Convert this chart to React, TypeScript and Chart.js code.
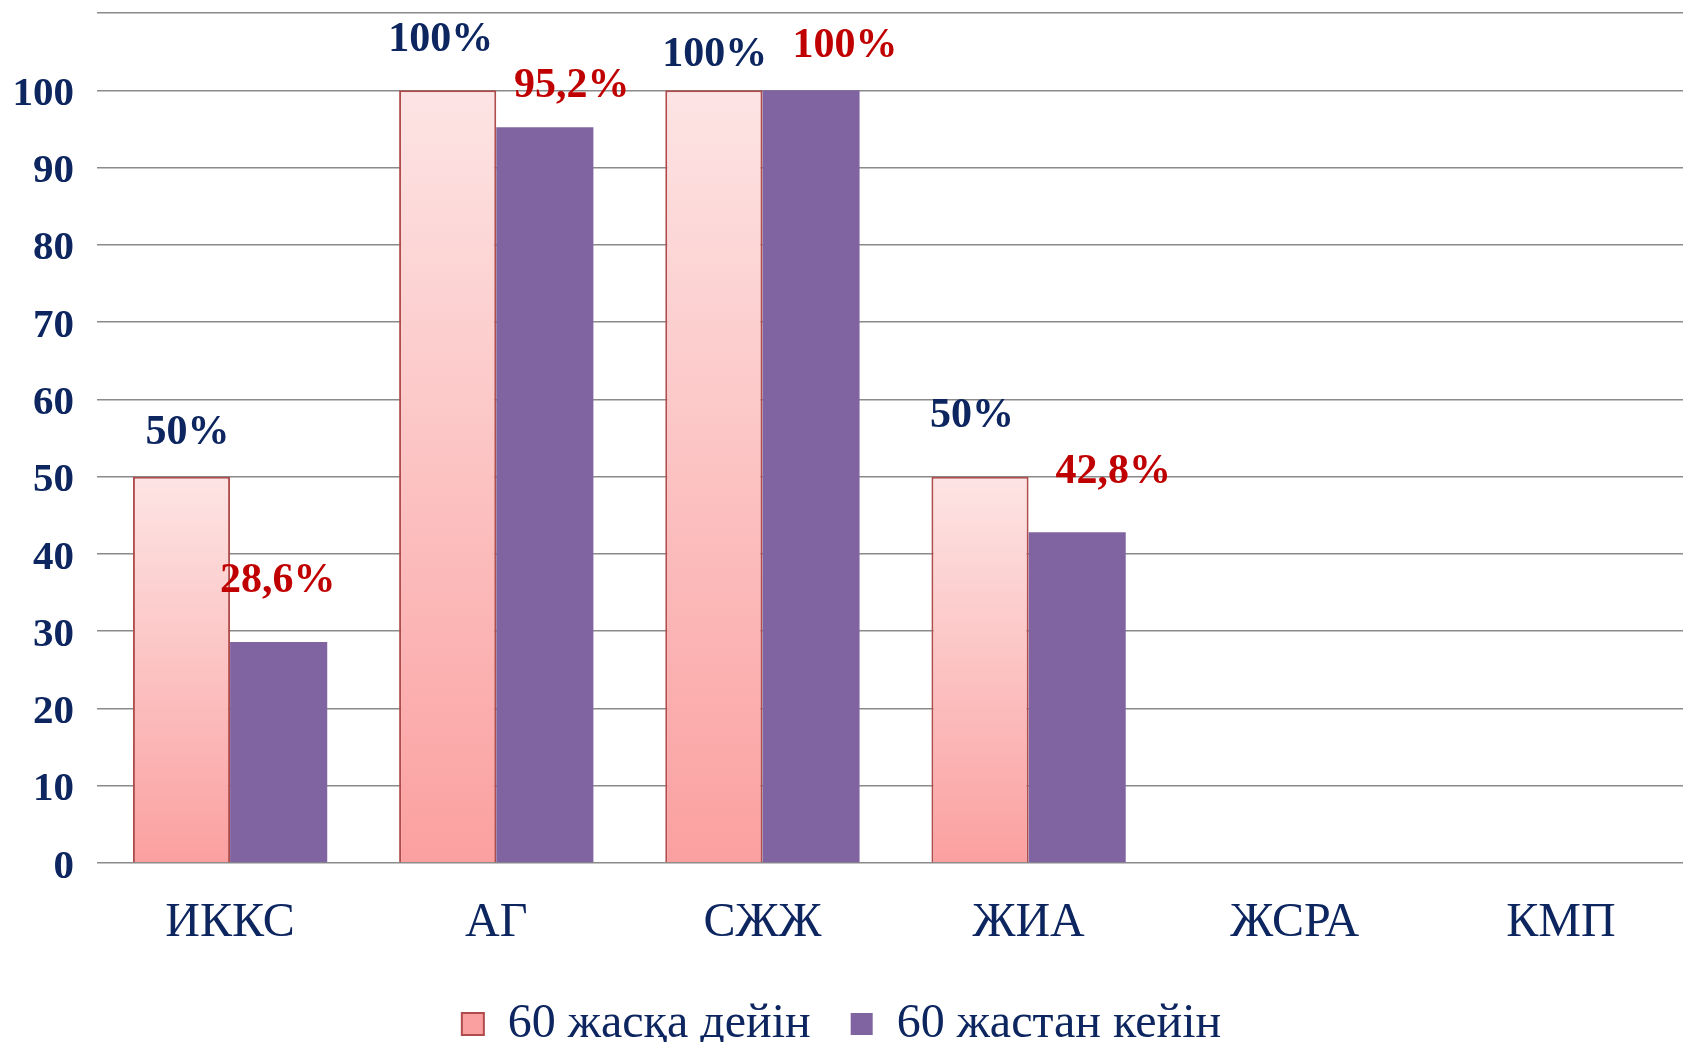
import React, { useEffect, useRef } from "react";
import { Chart, registerables } from "chart.js";

Chart.register(...registerables);

const categories = ["ИККС", "АГ", "СЖЖ", "ЖИА", "ЖСРА", "КМП"];
const seriesNames = ["60 жасқа дейін", "60 жастан кейін"];
const before60: (number | null)[] = [50, 100, 100, 50, null, null];
const after60: (number | null)[] = [28.6, 95.2, 100, 42.8, null, null];
const yTicks = [0, 10, 20, 30, 40, 50, 60, 70, 80, 90, 100];
const yMax = 110;

const FONT = "'Liberation Serif', 'Times New Roman', serif";
const NAVY = "#0d2660";
const RED = "#c00000";
const PURPLE = "#8064a2";
const PINK_TOP = "#fde4e4";
const PINK_BOTTOM = "#fba0a0";
const PINK_BORDER = "#b04c4c";

// label offsets (dx, dy) relative to bar centre / bar top
const labelOffsets = [
  [[6, -43], [-7, -50], [1, -35], [-8, -60]],
  [[-1, -61], [27, -41], [34, -44], [36, -60]],
];

const fmt = (v: number) => String(v).replace(".", ",") + "%";

const labelPlugin = {
  id: "barLabels",
  afterDatasetsDraw(chart: any) {
    const ctx = chart.ctx;
    ctx.save();
    ctx.font = `bold 42px ${FONT}`;
    ctx.textAlign = "center";
    ctx.textBaseline = "middle";
    chart.data.datasets.forEach((ds: any, di: number) => {
      const meta = chart.getDatasetMeta(di);
      ctx.fillStyle = di === 0 ? NAVY : RED;
      meta.data.forEach((bar: any, i: number) => {
        const v = ds.data[i];
        if (v === null || v === undefined) return;
        const off = (labelOffsets[di] && labelOffsets[di][i]) || [0, -40];
        ctx.fillText(fmt(v), bar.x + off[0], bar.y + off[1]);
      });
    });
    ctx.restore();
  },
};

// the plot area of the original runs a little past the right edge of the picture
const extendPlot = {
  id: "extendPlot",
  afterLayout(chart: any) {
    const x = chart.scales.x;
    x.right += 11;
    x.width += 11;
    x.configure();
  },
};

export default function App() {
  const ref = useRef<HTMLCanvasElement>(null);
  useEffect(() => {
    document.body.style.margin = "0";
    const pinkFill = (c: any) => {
      const chart = c.chart;
      const { chartArea, scales } = chart;
      if (!chartArea || c.type !== "data" || c.raw === null || c.raw === undefined) return "#fcc4c4";
      const top = scales.y.getPixelForValue(c.raw);
      const base = scales.y.getPixelForValue(0);
      const g = chart.ctx.createLinearGradient(0, top, 0, base);
      g.addColorStop(0, PINK_TOP);
      g.addColorStop(1, PINK_BOTTOM);
      return g;
    };
    const chart = new Chart(ref.current!, {
      type: "bar",
      data: {
        labels: categories,
        datasets: [
          {
            label: seriesNames[0],
            data: before60,
            backgroundColor: pinkFill,
            borderColor: PINK_BORDER,
            borderWidth: 2,
            categoryPercentage: 0.73,
            barPercentage: 1,
          },
          {
            label: seriesNames[1],
            data: after60,
            backgroundColor: PURPLE,
            borderColor: PURPLE,
            borderWidth: 0,
            categoryPercentage: 0.73,
            barPercentage: 1,
          },
        ],
      },
      options: {
        responsive: false,
        animation: false,
        layout: { padding: { top: 13, left: 0, right: 0, bottom: 0 } },
        plugins: {
          tooltip: { enabled: false },
          legend: {
            position: "bottom",
            maxHeight: 82,
            labels: {
              color: NAVY,
              font: { family: FONT, size: 48 },
              boxWidth: 22,
              boxHeight: 22,
              padding: 40,
            },
          },
        },
        scales: {
          x: {
            afterFit: (s: any) => {
              s.height = 97;
            },
            grid: { display: false, drawTicks: false },
            border: { display: false },
            ticks: {
              color: NAVY,
              font: { family: FONT, size: 48 },
              padding: 32,
            },
          },
          y: {
            min: 0,
            max: yMax,
            afterFit: (s: any) => {
              s.width = 97;
              s.paddingTop = 0;
            },
            afterBuildTicks: (s: any) => {
              s.ticks = [...yTicks, yMax].map((v) => ({ value: v }));
            },
            grid: { color: "#8a8a8a", lineWidth: 1.5, drawTicks: false },
            border: { display: false },
            ticks: {
              color: NAVY,
              padding: 23,
              labelOffset: 4,
              font: { family: FONT, size: 41, weight: "bold" },
              callback: (v: any) => (v === yMax ? "" : String(v)),
            },
          },
        },
      },
      plugins: [extendPlot, labelPlugin],
    });
    return () => chart.destroy();
  }, []);
  return (
    <div style={{ width: 1683, height: 1042, background: "#fff", overflow: "hidden" }}>
      <canvas ref={ref} width={1683} height={1042} style={{ display: "block" }} />
    </div>
  );
}
